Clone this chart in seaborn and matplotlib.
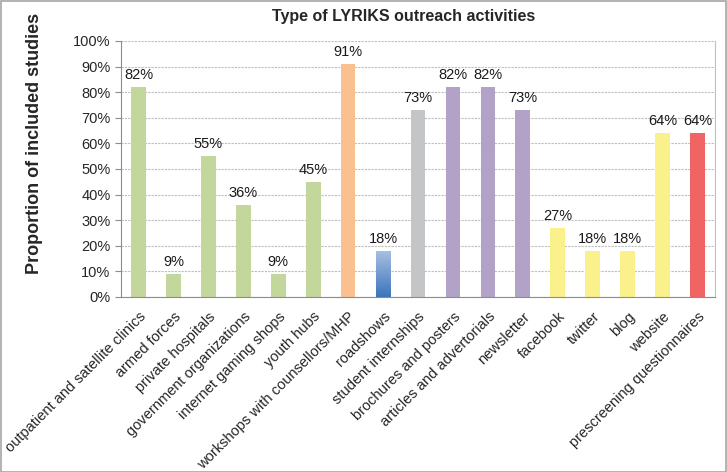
import numpy as np
import pandas as pd
import matplotlib
matplotlib.use("Agg")
import matplotlib.pyplot as plt
import seaborn as sns
from matplotlib.ticker import PercentFormatter, FixedLocator
from matplotlib.patches import Rectangle

categories = ["outpatient and satellite clinics", "armed forces", "private hospitals",
              "government organizations", "internet gaming shops", "youth hubs",
              "workshops with counsellors/MHP", "roadshows", "student internships",
              "brochures and posters", "articles and advertorials", "newsletter",
              "facebook", "twitter", "blog", "website", "prescreening questionnaires"]
values = [82, 9, 55, 36, 9, 45, 91, 18, 73, 82, 82, 73, 27, 18, 18, 64, 64]
colors = ["#C3D69B"] * 6 + ["#FAC090", "#7FA3D3", "#C4C5C7"] + ["#B3A2C7"] * 3 + ["#FAF08C"] * 4 + ["#F06464"]

sns.set_style("white")
plt.rcParams["font.family"] = ["Liberation Sans", "DejaVu Sans"]

df = pd.DataFrame({"cat": categories, "val": values})

fig = plt.figure(figsize=(7.27, 4.72), dpi=100)
ax = fig.add_axes([121/727, 1 - 297/472, (715-121)/727, (297-41)/472])

sns.barplot(data=df, x="cat", y="val", hue="cat", palette=colors, legend=False,
            width=0.42, ax=ax, saturation=1, edgecolor="none", zorder=2)

# gradient on roadshows bar
for i, p in enumerate(ax.patches):
    if categories[i] == "roadshows":
        x0, y0 = p.get_x(), p.get_y()
        w, h = p.get_width(), p.get_height()
        grad = np.linspace(0, 1, 100).reshape(-1, 1)
        cmap = matplotlib.colors.LinearSegmentedColormap.from_list("g", ["#3E74BB", "#A6C1E4"])
        im = ax.imshow(grad, extent=[x0, x0 + w, y0, y0 + h], origin="lower",
                       cmap=cmap, aspect="auto", zorder=3)
        im.set_clip_path(p)
        p.set_facecolor("none")

for i, v in enumerate(values):
    ax.text(i, v + 2.0, f"{v}%", ha="center", va="bottom", fontsize=10.5, color="#1a1a1a", zorder=4)

ax.set_xlim(-0.5, len(categories) - 0.5)
ax.set_ylim(0, 100)
ax.yaxis.set_major_locator(FixedLocator(np.arange(0, 101, 10)))
ax.yaxis.set_major_formatter(PercentFormatter(decimals=0))
ax.grid(axis="y", color="#BFBFBF", linestyle=(0, (2, 1)), linewidth=0.8, zorder=0)
ax.set_axisbelow(True)

ax.set_xticks(range(len(categories)))
ax.set_xticklabels(categories, rotation=45, ha="right", rotation_mode="anchor", fontsize=10.5)
ax.tick_params(axis="x", which="major", length=0, pad=9)
ax.set_xticks(np.arange(-0.5, len(categories), 1), minor=True)
ax.tick_params(axis="x", which="minor", length=4, color="#8C8C8C", width=0.8)
ax.tick_params(axis="y", length=4, color="#8C8C8C", width=0.8, labelsize=10.5, left=True)

for s in ["left", "bottom", "right"]:
    ax.spines[s].set_color("#8C8C8C")
    ax.spines[s].set_linewidth(0.8)
ax.spines["right"].set_color("#BFBFBF")
ax.spines["top"].set_visible(False)

ax.set_xlabel("")
ax.set_ylabel("")
fig.text(35/727, 1 - 143/472, "Proportion of included studies", rotation=90, ha="center", va="center",
         fontsize=13, fontweight="bold")
fig.text(404/727, 1 - 17/472, "Type of LYRIKS outreach activities", ha="center", va="center",
         fontsize=11.5, fontweight="bold")

fig.patches.append(Rectangle((0.5/727, 0.5/472), 1 - 1.5/727, 1 - 1.5/472, transform=fig.transFigure,
                             fill=False, edgecolor="#A6A6A6", linewidth=1.2))

fig.savefig("out.png", dpi=100)
